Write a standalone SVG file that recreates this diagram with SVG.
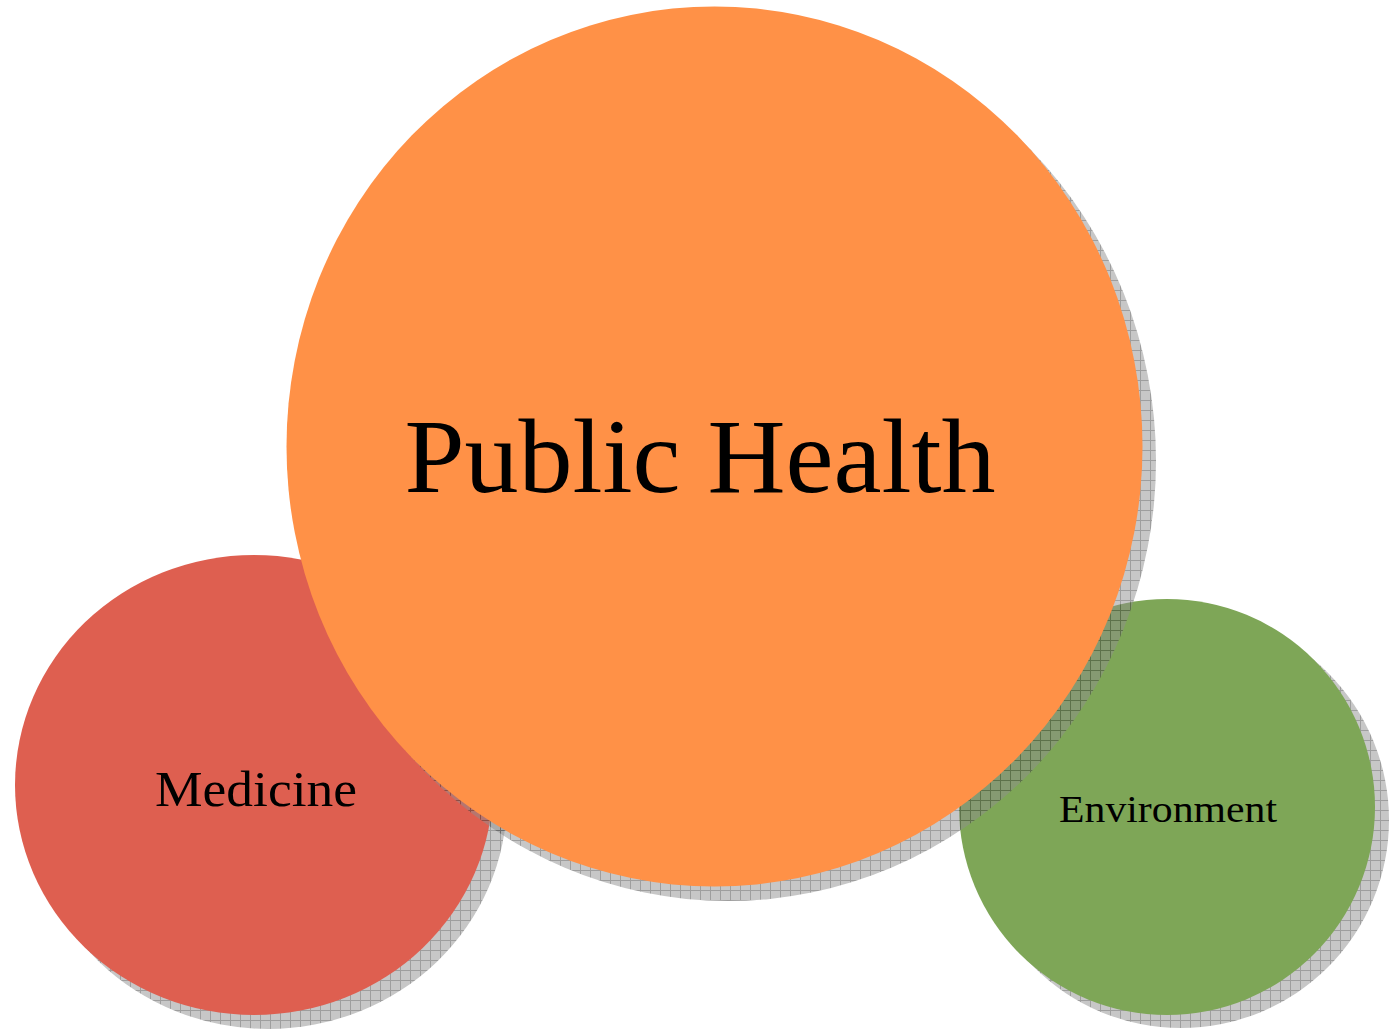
<svg xmlns="http://www.w3.org/2000/svg" width="1397" height="1031" viewBox="0 0 1397 1031">
<style>
  .lbl { font-family: "Liberation Serif", "DejaVu Serif", serif; fill: #000; text-anchor: middle; }
  .shadow { fill: url(#hatch); opacity: 0.5; }
</style>
<defs>
  <pattern id="hatch" patternUnits="userSpaceOnUse" width="10" height="10">
    <rect width="10" height="10" fill="#8e8e8e"/>
    <path d="M0 0.5 H10 M0.5 0 V10" stroke="#3c3c3c" stroke-width="1" fill="none"/>
  </pattern>
</defs>
<rect width="1397" height="1031" fill="#ffffff"/>

<g id="medicine">
  <ellipse class="shadow" cx="268" cy="799" rx="239" ry="230"/>
  <ellipse cx="254" cy="785" rx="239" ry="230" fill="#DE5F50"/>
  <text class="lbl" x="256" y="806" font-size="51" textLength="202" lengthAdjust="spacingAndGlyphs">Medicine</text>
</g>

<g id="environment">
  <ellipse class="shadow" cx="1181" cy="820" rx="208" ry="208"/>
  <ellipse cx="1167" cy="807" rx="208" ry="208" fill="#7EA657"/>
  <text class="lbl" x="1168" y="822" font-size="38" textLength="218" lengthAdjust="spacingAndGlyphs">Environment</text>
</g>

<g id="public-health">
  <ellipse class="shadow" cx="728" cy="461" rx="428" ry="440"/>
  <ellipse cx="714.5" cy="446.5" rx="428" ry="440" fill="#FF9147"/>
  <text class="lbl" x="700" y="492" font-size="106" textLength="591" lengthAdjust="spacingAndGlyphs">Public Health</text>
</g>

<g id="connectors"></g>
</svg>
